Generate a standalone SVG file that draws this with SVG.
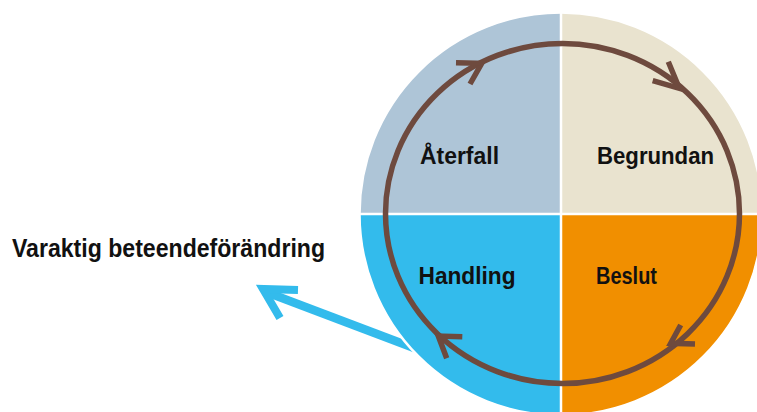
<svg xmlns="http://www.w3.org/2000/svg" width="757" height="412" viewBox="0 0 757 412">
  <style>
    .label { font-family: "Liberation Sans", Arial, sans-serif; font-weight: 700; fill: #111111; }
    .ring { fill: none; stroke: #6e4a3e; stroke-width: 5.5; }
    .chev { fill: none; stroke: #6e4a3e; stroke-width: 5.5; stroke-linecap: butt; stroke-linejoin: miter; }
    .divider { stroke: #ffffff; stroke-width: 2.5; }
  </style>

  <rect width="757" height="412" fill="#ffffff"/>

  <!-- outgoing arrow toward the long-term change label -->
  <g id="connectors">
    <line x1="266" y1="292" x2="422" y2="351" stroke="#33bbec" stroke-width="8.5"/>
    <polyline points="298,290 263,289 280,318" fill="none" stroke="#33bbec" stroke-width="8" stroke-linejoin="miter" stroke-miterlimit="10"/>
  </g>

  <!-- four quadrants of the cycle -->
  <g id="aterfall">
    <path d="M561,214 L360,214 A201,201 0 0 1 561,13 Z" fill="#aec5d7"/>
    <text class="label" x="420" y="164" font-size="24" textLength="79" lengthAdjust="spacingAndGlyphs">Återfall</text>
  </g>
  <g id="begrundan">
    <path d="M561,214 L561,13 A201,201 0 0 1 762,214 Z" fill="#e9e3cf"/>
    <text class="label" x="597" y="164" font-size="24" textLength="117" lengthAdjust="spacingAndGlyphs">Begrundan</text>
  </g>
  <g id="beslut">
    <path d="M561,214 L762,214 A201,201 0 0 1 561,415 Z" fill="#f18f00"/>
    <text class="label" x="596" y="284" font-size="24" textLength="61" lengthAdjust="spacingAndGlyphs">Beslut</text>
  </g>
  <g id="handling">
    <path d="M561,214 L561,415 A201,201 0 0 1 360,214 Z" fill="#33bbec"/>
    <text class="label" x="418.5" y="284" font-size="24" textLength="97" lengthAdjust="spacingAndGlyphs">Handling</text>
  </g>

  <!-- white rim and dividers -->
  <circle cx="561" cy="214" r="201.5" fill="none" stroke="#ffffff" stroke-width="2.5"/>
  <line class="divider" x1="561" y1="10" x2="561" y2="412"/>
  <line class="divider" x1="356" y1="214" x2="757" y2="214"/>

  <!-- clockwise cycle ring with chevrons -->
  <g id="cycle">
    <ellipse class="ring" cx="562.5" cy="213.5" rx="177" ry="170"/>
    <polyline class="chev" points="456,62.7 481.7,63.3 470,84"/>
    <polyline class="chev" points="652.7,80.7 679.3,88.3 668.3,61.7"/>
    <polyline class="chev" points="680.7,325 670.7,343.3 695,344"/>
    <polyline class="chev" points="462.3,336.7 438.3,336 446.7,358.3"/>
  </g>

  <g id="varaktig">
    <text class="label" x="12" y="257" font-size="25" textLength="313" lengthAdjust="spacingAndGlyphs">Varaktig beteendeförändring</text>
  </g>
</svg>
